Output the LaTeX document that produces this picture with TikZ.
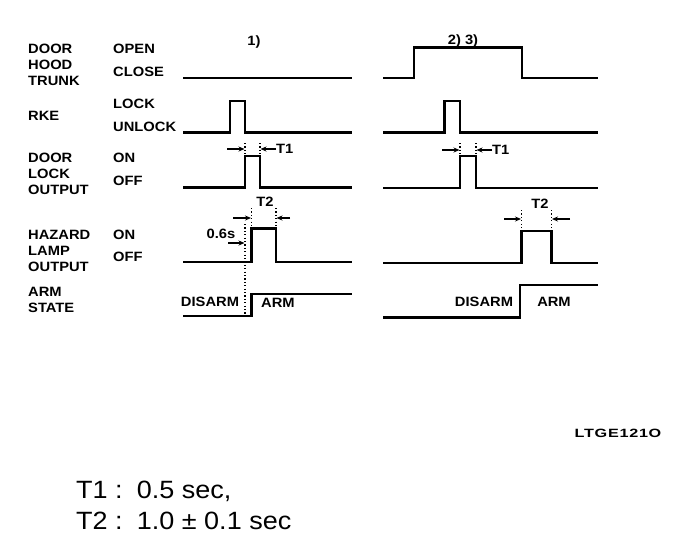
\documentclass[tikz,border=0pt]{standalone}
\usepackage{fontspec}
\setmainfont{Liberation Sans}
\newfontfamily\lblfont{Liberation Sans Bold}[FakeStretch=1.09]
\newfontfamily\notefont{Liberation Sans}[FakeStretch=1.08]
\newfontfamily\codefont{Liberation Sans Bold}[FakeStretch=1.35,LetterSpace=6]
\usetikzlibrary{arrows.meta}
\begin{document}
\begin{tikzpicture}[x=1pt,y=-1pt,
  lbl/.style={anchor=west,inner sep=0pt,font=\lblfont\fontsize{13.5}{14}\selectfont},
  clbl/.style={inner sep=0pt,font=\lblfont\fontsize{13.5}{14}\selectfont},
  wave/.style={line width=2.2pt,line join=miter},
  dots/.style={line width=1.1pt,dash pattern=on 1.2pt off 2.2pt},
  dimarrow/.style={line width=1.3pt,-{Stealth[length=6pt,width=5pt]}},
  note/.style={anchor=west,inner sep=0pt,font=\notefont\fontsize{25}{26}\selectfont}]
\useasboundingbox[fill=white] (0,0) rectangle (688,542);

% ---- row labels
\node[lbl] (l1a) at (28,49) {DOOR};
\node[lbl] (l1b) at (28,65) {HOOD};
\node[lbl] (l1c) at (28,81) {TRUNK};
\node[lbl] (s1a) at (113,49) {OPEN};
\node[lbl] (s1b) at (113,72) {CLOSE};
\node[lbl] (l2) at (28,116) {RKE};
\node[lbl] (s2a) at (113,104) {LOCK};
\node[lbl] (s2b) at (113,127) {UNLOCK};
\node[lbl] (l3a) at (28,158) {DOOR};
\node[lbl] (l3b) at (28,174) {LOCK};
\node[lbl] (l3c) at (28,190) {OUTPUT};
\node[lbl] (s3a) at (113,158) {ON};
\node[lbl] (s3b) at (113,181) {OFF};
\node[lbl] (l4a) at (28,235) {HAZARD};
\node[lbl] (l4b) at (28,251) {LAMP};
\node[lbl] (l4c) at (28,267) {OUTPUT};
\node[lbl] (s4a) at (113,235) {ON};
\node[lbl] (s4b) at (113,257) {OFF};
\node[lbl] (l5a) at (28,292) {ARM};
\node[lbl] (l5b) at (28,308) {STATE};

% ---- case labels
\node[clbl] (c1) at (254,42) {1)};
\node[clbl] (c2) at (463,41) {2) 3)};

% ================= left panel
\draw[wave] (183,78) -- (352,78);
\draw[wave] (183,132.5) -- (230,132.5) -- (230,101) -- (245,101) -- (245,132.5) -- (352,132.5);
\draw[wave] (183,187.5) -- (245,187.5) -- (245,156) -- (260,156) -- (260,187.5) -- (352,187.5);
\draw[wave] (183,262) -- (251.5,262) -- (251.5,228.5) -- (276,228.5) -- (276,262) -- (352,262);
\draw[wave] (183,316) -- (251.5,316) -- (251.5,294) -- (352,294);

% T1 left
\draw[dots] (245,143) -- (245,155);
\draw[dots] (260,143) -- (260,155);
\coordinate (t1la) at (227,149);
\coordinate (t1lb) at (244.5,149);
\coordinate (t1rb) at (260.5,149);
\node[clbl,anchor=west] (t1l) at (276,149) {T1};
\draw[dimarrow] (t1la) -- (t1lb);
\draw[dimarrow] (t1l.west) -- (t1rb);

% T2 left
\draw[dots] (251.5,208) -- (251.5,228);
\draw[dots] (276,208) -- (276,228);
\node[clbl] (t2l) at (265,202) {T2};
\coordinate (t2la) at (233,218);
\coordinate (t2lb) at (251,218);
\coordinate (t2ra) at (290,218);
\coordinate (t2rb) at (276.5,218);
\draw[dimarrow] (t2la) -- (t2lb);
\draw[dimarrow] (t2ra) -- (t2rb);

% 0.6s
\draw[dots] (245,224) -- (245,316);
\node[clbl] (d06) at (221,234) {0.6s};
\coordinate (d06a) at (228,243);
\coordinate (d06b) at (244.5,243);
\draw[dimarrow] (d06a) -- (d06b);

\node[clbl] (dis1) at (210,302) {DISARM};
\node[clbl] (arm1) at (278,303) {ARM};

% ================= right panel
\draw[wave] (383,78) -- (414,78) -- (414,47.5) -- (522,47.5) -- (522,78) -- (598,78);
\draw[wave] (383,132.5) -- (444.5,132.5) -- (444.5,101) -- (460,101) -- (460,132.5) -- (598,132.5);
\draw[wave] (383,188) -- (460,188) -- (460,156) -- (476,156) -- (476,188) -- (598,188);
\draw[wave] (383,263) -- (521.5,263) -- (521.5,231) -- (551.5,231) -- (551.5,263) -- (598,263);
\draw[wave] (383,317.5) -- (520,317.5) -- (520,285) -- (598,285);

% T1 right
\draw[dots] (460,143) -- (460,155);
\draw[dots] (476,143) -- (476,155);
\coordinate (t1ra) at (442,150);
\coordinate (t1rc) at (459.5,150);
\coordinate (t1rd) at (476.5,150);
\node[clbl,anchor=west] (t1r) at (492,150) {T1};
\draw[dimarrow] (t1ra) -- (t1rc);
\draw[dimarrow] (t1r.west) -- (t1rd);

% T2 right
\draw[dots] (521.5,210) -- (521.5,230);
\draw[dots] (551.5,210) -- (551.5,230);
\node[clbl] (t2r) at (540,204) {T2};
\coordinate (t2rc) at (504,219);
\coordinate (t2rd) at (521,219);
\coordinate (t2re) at (570,219);
\coordinate (t2rf) at (552,219);
\draw[dimarrow] (t2rc) -- (t2rd);
\draw[dimarrow] (t2re) -- (t2rf);

\node[clbl] (dis2) at (484,302) {DISARM};
\node[clbl] (arm2) at (554,302) {ARM};

% ---- figure code and notes
\node[inner sep=0pt,font=\codefont\fontsize{12}{13}\selectfont] (code) at (618,433) {LTGE121O};
\node[note] (n1) at (76,491) {T1 :\, 0.5 sec,};
\node[note] (n2) at (76,521) {T2 :\, 1.0 ± 0.1 sec};
\end{tikzpicture}
\end{document}
